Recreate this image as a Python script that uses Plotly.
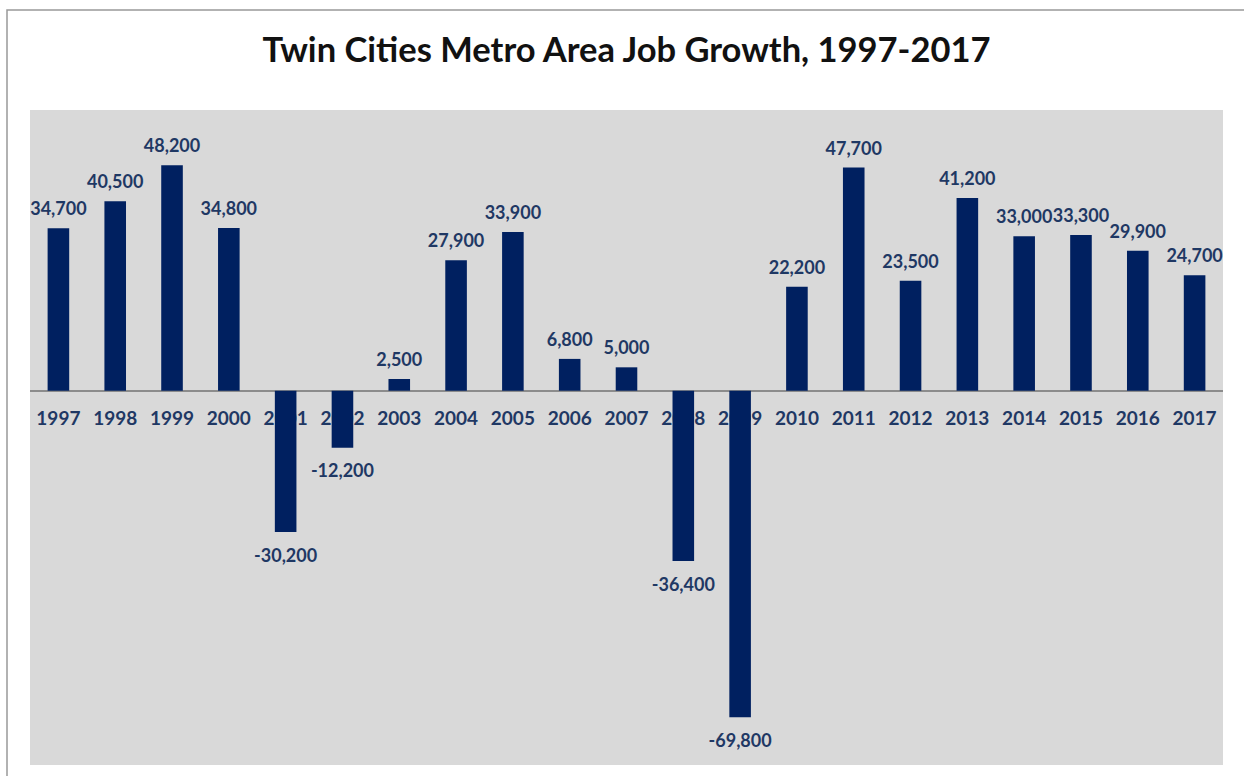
import plotly.graph_objects as go

years = ["1997", "1998", "1999", "2000", "2001", "2002", "2003", "2004", "2005", "2006", "2007",
         "2008", "2009", "2010", "2011", "2012", "2013", "2014", "2015", "2016", "2017"]
job_growth = [34700, 40500, 48200, 34800, -30200, -12200, 2500, 27900, 33900, 6800, 5000,
              -36400, -69800, 22200, 47700, 23500, 41200, 33000, 33300, 29900, 24700]

title_text = "Twin Cities Metro Area Job Growth, 1997-2017"
y_min, y_max = -80000, 60000

navy = "#002060"
label_color = "#1F3864"
font_family = "Lato, 'Open Sans', sans-serif"

W, H = 1244, 776
ml, mr, mt, mb = 30, 21, 110, 11
plot_w = W - ml - mr
plot_h = H - mt - mb

fig = go.Figure()
fig.add_trace(go.Bar(
    x=years, y=job_growth, marker=dict(color=navy, line=dict(width=0)),
    hoverinfo="x+y", showlegend=False,
))

labels = [f"{v:,}" for v in job_growth]
fig.add_trace(go.Scatter(
    x=years, y=job_growth, mode="markers+text", text=labels,
    textposition=["top center" if v >= 0 else "bottom center" for v in job_growth],
    marker=dict(size=[12 if v >= 0 else 24 for v in job_growth], opacity=0),
    textfont=dict(family=font_family, size=18, color=label_color, weight="bold"),
    hoverinfo="skip", showlegend=False, cliponaxis=False,
))

zero_pos = (0 - y_min) / (y_max - y_min)

fig.update_layout(
    width=W, height=H,
    margin=dict(l=ml, r=mr, t=mt, b=mb, pad=0),
    paper_bgcolor="white",
    plot_bgcolor="#D9D9D9",
    bargap=0.62,
    title=dict(text=title_text, x=0.5, xref="paper", xanchor="center",
               y=1 - 50 / H, yref="container", yanchor="middle",
               font=dict(family=font_family, size=34.5, color="#111111", weight="bold")),
    xaxis=dict(
        type="category", anchor="free", position=zero_pos,
        range=[-0.5, len(years) - 0.5],
        showline=False, showgrid=False, zeroline=False,
        ticks="outside", ticklen=10, tickcolor="rgba(0,0,0,0)",
        tickfont=dict(family=font_family, size=19, color=label_color, weight="bold"),
        layer="below traces",
    ),
    yaxis=dict(
        range=[y_min, y_max], showticklabels=False, showgrid=False, ticks="",
        zeroline=True, zerolinecolor="#8C8C8C", zerolinewidth=1.5,
        layer="below traces",
    ),
    shapes=[
        dict(type="path", xref="paper", yref="paper",
             path=f"M {(7 - ml) / plot_w} {(H - mb - 790) / plot_h} "
                  f"L {(7 - ml) / plot_w} {(H - mb - 10) / plot_h} "
                  f"L {(1260 - ml) / plot_w} {(H - mb - 10) / plot_h}",
             line=dict(color="#999999", width=1.5), layer="above"),
    ],
)

fig.write_html("out.html", config={"displayModeBar": False},
               post_script="document.body.style.margin='0';")
